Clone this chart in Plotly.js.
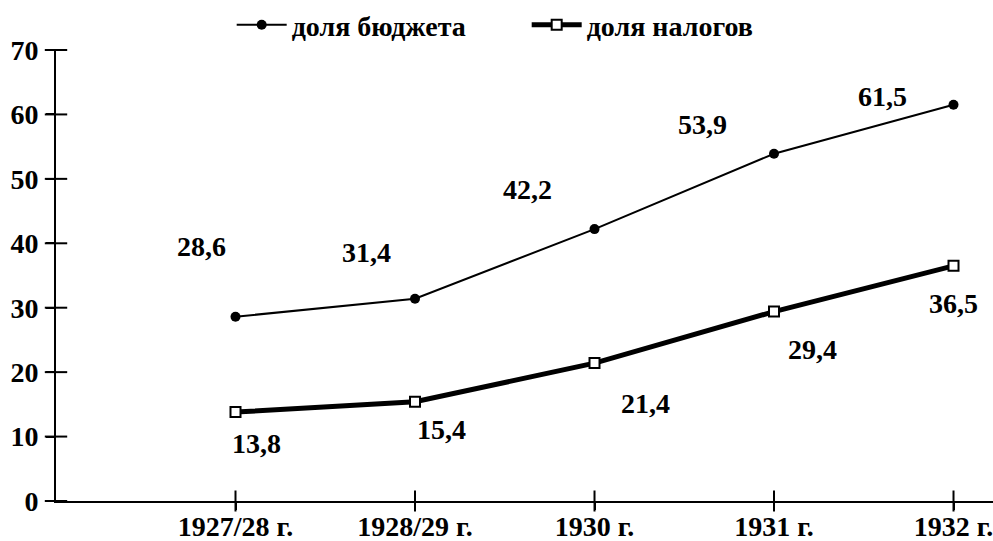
<!DOCTYPE html>
<html>
<head>
<meta charset="utf-8">
<script src="https://cdn.plot.ly/plotly-3.0.1.min.js"></script>
<style>html,body{margin:0;padding:0;background:#fff;}#chart{width:993px;height:541px;}</style>
</head>
<body>
<div id="chart"></div>
<script>
var categories = ['1927/28 г.', '1928/29 г.', '1930 г.', '1931 г.', '1932 г.'];
var budgetShare = [28.6, 31.4, 42.2, 53.9, 61.5];
var taxShare = [13.8, 15.4, 21.4, 29.4, 36.5];
var budgetLabels = ['28,6', '31,4', '42,2', '53,9', '61,5'];
var taxLabels = ['13,8', '15,4', '21,4', '29,4', '36,5'];
var yTicks = [0, 10, 20, 30, 40, 50, 60, 70];

var FONT = 'Liberation Serif';
var FS = 28;
var X_RANGE = [-1, 4.22];

// label offsets (px) relative to each point
var budgetOffsets = [[-34, 70], [-49, 46], [-67, 40], [-72, 29], [-71, 8]];
var taxOffsets = [[21, -31], [26, -28], [51, -40], [38, -38], [0, -38]];

var traces = [
  {
    x: categories, y: budgetShare, name: 'доля бюджета', type: 'scatter', mode: 'lines+markers',
    line: {color: '#000', width: 2},
    marker: {symbol: 'circle', size: 10, color: '#000'},
    hoverinfo: 'skip'
  },
  {
    x: categories, y: taxShare, name: 'доля налогов', type: 'scatter', mode: 'lines+markers',
    line: {color: '#000', width: 5},
    marker: {symbol: 'square', size: 10, color: '#fff', line: {color: '#000', width: 2}},
    hoverinfo: 'skip'
  },
  // crossing tick marks on the category axis
  {
    x: categories, y: categories.map(function () { return 0; }), type: 'scatter', mode: 'markers',
    marker: {symbol: 'line-ns', size: 15, line: {color: '#000', width: 2}},
    cliponaxis: false, showlegend: false, hoverinfo: 'skip'
  },
  // crossing tick marks on the value axis
  {
    x: yTicks.map(function () { return X_RANGE[0]; }), y: yTicks, xaxis: 'x2', type: 'scatter', mode: 'markers',
    marker: {symbol: 'line-ew', size: 16, line: {color: '#000', width: 2}},
    cliponaxis: false, showlegend: false, hoverinfo: 'skip'
  }
];

var annotations = [];
categories.forEach(function (c, i) {
  annotations.push({x: c, y: budgetShare[i], xref: 'x', yref: 'y', text: budgetLabels[i], showarrow: false,
    xshift: budgetOffsets[i][0], yshift: budgetOffsets[i][1], font: {family: FONT, size: FS, color: '#000', weight: 'bold'}});
  annotations.push({x: c, y: taxShare[i], xref: 'x', yref: 'y', text: taxLabels[i], showarrow: false,
    xshift: taxOffsets[i][0], yshift: taxOffsets[i][1], font: {family: FONT, size: FS, color: '#000', weight: 'bold'}});
});

var layout = {
  width: 993, height: 541,
  margin: {l: 56, r: 0, t: 47, b: 40},
  paper_bgcolor: '#fff', plot_bgcolor: '#fff',
  font: {family: FONT, size: FS, color: '#000', weight: 'bold'},
  showlegend: true,
  legend: {orientation: 'h', x: 0.1875, xanchor: 'left', y: 1.0, yanchor: 'bottom', itemwidth: 50,
    font: {family: FONT, size: FS, color: '#000', weight: 'bold'}, entrywidth: 230, entrywidthmode: 'pixels',
    bgcolor: 'rgba(0,0,0,0)'},
  xaxis: {
    showgrid: false, zeroline: false, showline: true, linecolor: '#000', linewidth: 2,
    type: 'category', range: X_RANGE, ticks: 'outside', ticklen: 7, tickwidth: 2, tickcolor: '#000',
    tickvals: categories, ticklabelstandoff: -8,
    tickfont: {family: FONT, size: FS, color: '#000', weight: 'bold'}
  },
  xaxis2: {
    type: 'linear', range: X_RANGE, overlaying: 'x', visible: false
  },
  yaxis: {
    showgrid: false, zeroline: false, showline: true, linecolor: '#000', linewidth: 2,
    range: [0, 70], ticks: 'outside', ticklen: 8, tickwidth: 2, tickcolor: '#000',
    tickvals: yTicks, ticklabelstandoff: 2,
    tickfont: {family: FONT, size: FS, color: '#000', weight: 'bold'}
  },
  annotations: annotations
};

Plotly.newPlot('chart', traces, layout, {displayModeBar: false, staticPlot: true});
</script>
</body>
</html>
